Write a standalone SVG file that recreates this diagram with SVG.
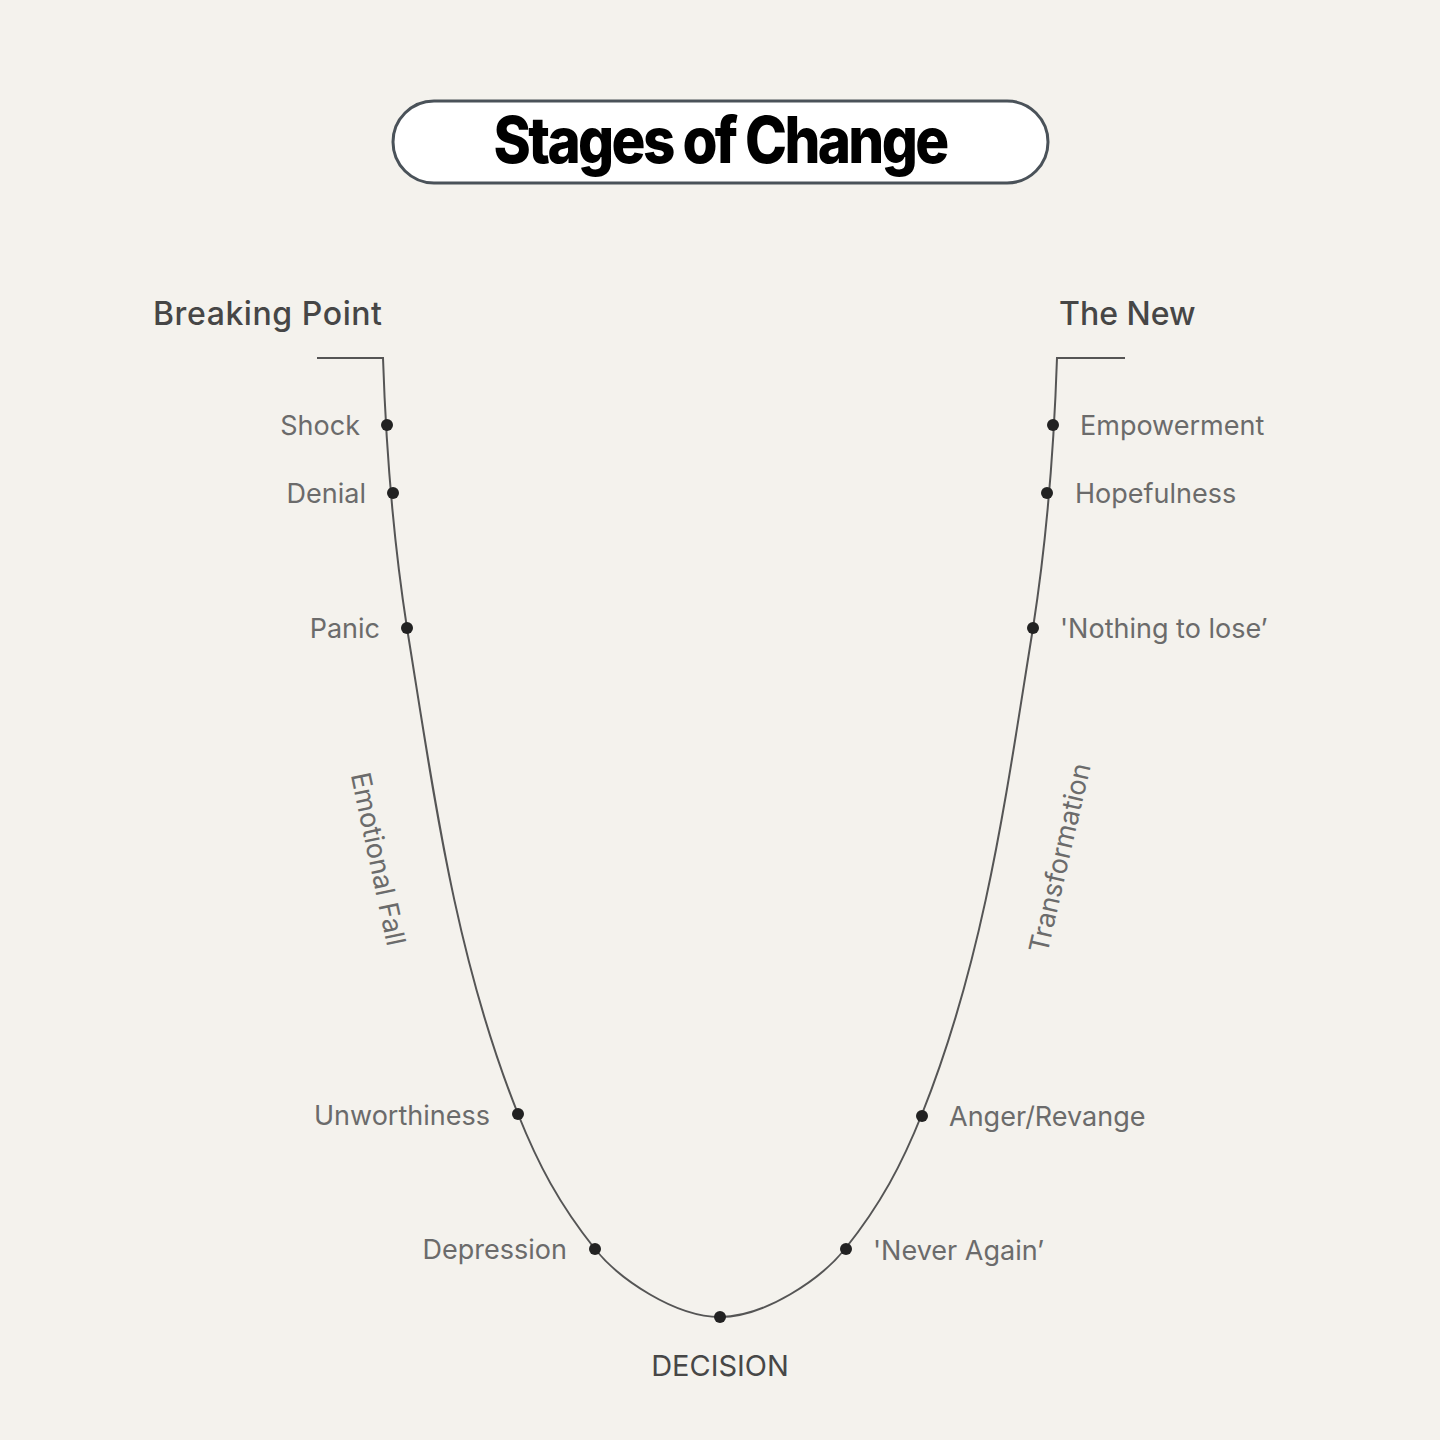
<svg xmlns="http://www.w3.org/2000/svg" width="1440" height="1440" viewBox="0 0 1440 1440">
<style>
.lbl{font-family:Inter,"Noto Sans",sans-serif;font-size:27px;fill:#6b6b6b}
.hdr{font-family:Inter,"Noto Sans",sans-serif;font-size:32px;fill:#464646;font-weight:500}
.dot{fill:#222}
.curve{fill:none;stroke:#555;stroke-width:2}
</style>
<rect width="1440" height="1440" fill="#f4f2ed"/>
<g id="title">
<rect x="393" y="101" width="655" height="82" rx="41" fill="#fff" stroke="#4a5259" stroke-width="3"/>
<text x="720" y="163" text-anchor="middle" font-family="Inter,'Noto Sans',sans-serif" font-weight="800" font-size="64" letter-spacing="-3" fill="#000" textLength="453" lengthAdjust="spacingAndGlyphs">Stages of Change</text>
</g>
<g id="connectors">
<path class="curve" d="M317,358 H383 C386,448 393,538 407,628 C433,788 454,954 518,1114 C538,1164 559,1204 595,1249 C619,1279 675,1317 720,1317 C765,1317 821,1279 845,1249 C881,1204 902,1164 922,1114 C986,954 1007,788 1033,628 C1047,538 1054,448 1057,358 H1125"/>
</g>
<g id="breaking-point"><text class="hdr" x="153" y="325" textLength="229">Breaking Point</text></g>
<g id="the-new"><text class="hdr" x="1059" y="325">The New</text></g>
<g id="shock"><circle class="dot" cx="387" cy="425" r="6"/><text class="lbl" x="360" y="435" text-anchor="end">Shock</text></g>
<g id="denial"><circle class="dot" cx="393" cy="493" r="6"/><text class="lbl" x="366" y="503" text-anchor="end">Denial</text></g>
<g id="panic"><circle class="dot" cx="407" cy="628" r="6"/><text class="lbl" x="380" y="638" text-anchor="end">Panic</text></g>
<g id="unworthiness"><circle class="dot" cx="518" cy="1114" r="6"/><text class="lbl" x="490" y="1125" text-anchor="end">Unworthiness</text></g>
<g id="depression"><circle class="dot" cx="595" cy="1249" r="6"/><text class="lbl" x="567" y="1259" text-anchor="end">Depression</text></g>
<g id="decision"><circle class="dot" cx="720" cy="1317" r="6"/><text class="lbl" x="720" y="1376" text-anchor="middle" style="fill:#474747;font-size:29px">DECISION</text></g>
<g id="never-again"><circle class="dot" cx="846" cy="1249" r="6"/><text class="lbl" x="873" y="1260">'Never Again’</text></g>
<g id="anger"><circle class="dot" cx="922" cy="1116" r="6"/><text class="lbl" x="949" y="1126">Anger/Revange</text></g>
<g id="nothing"><circle class="dot" cx="1033" cy="628" r="6"/><text class="lbl" x="1060" y="638">'Nothing to lose’</text></g>
<g id="hopefulness"><circle class="dot" cx="1047" cy="493" r="6"/><text class="lbl" x="1075" y="503">Hopefulness</text></g>
<g id="empowerment"><circle class="dot" cx="1053" cy="425" r="6"/><text class="lbl" x="1080" y="435">Empowerment</text></g>
<g id="emotional-fall"><text class="lbl" transform="translate(369,861) rotate(78)" text-anchor="middle">Emotional Fall</text></g>
<g id="transformation"><text class="lbl" transform="translate(1069,860) rotate(-77)" text-anchor="middle">Transformation</text></g>
</svg>
